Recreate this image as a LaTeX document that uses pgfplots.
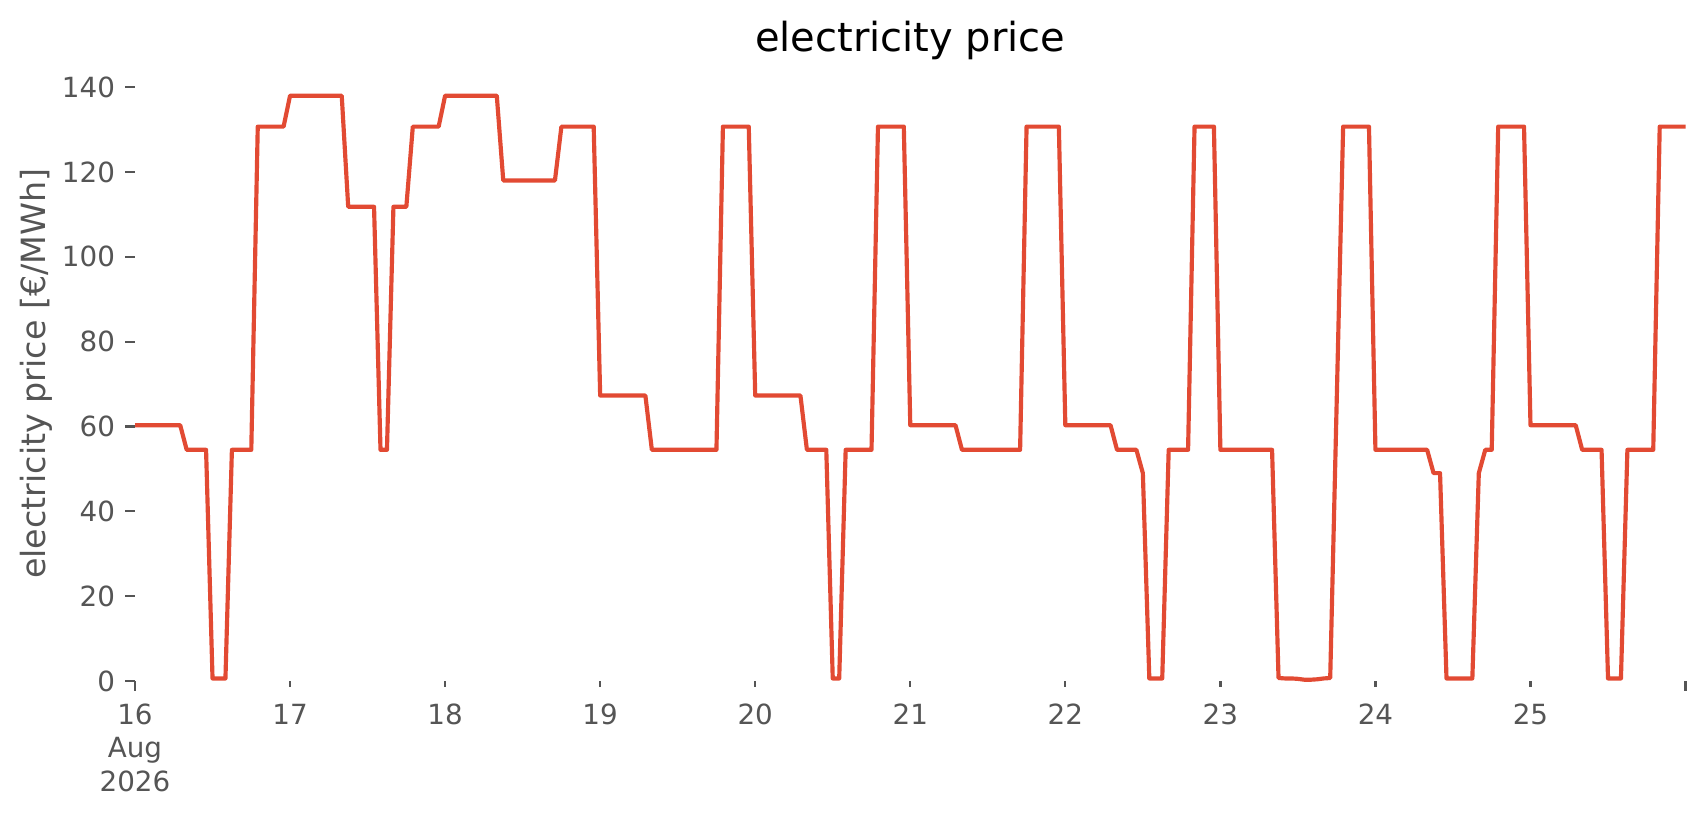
\documentclass[border=0pt]{standalone}
\usepackage{fontspec}
\setmainfont{DejaVu Sans}
\usepackage{pgfplots}
\pgfplotsset{compat=1.18}
\definecolor{ggred}{HTML}{E24A33}
\definecolor{tickgrey}{HTML}{555555}
\begin{document}
\begin{tikzpicture}[x=1pt,y=1pt]
\path[use as bounding box] (0,0) rectangle (614.16,293.4);
\begin{axis}[
  at={(48.6pt,48.24pt)}, anchor=south west,
  scale only axis, width=558.2pt, height=221.4pt,
  xmin=0, xmax=240, ymin=0, ymax=145,
  clip=false,
  axis line style={draw=none},
  tick align=outside,
  tick style={tickgrey, line width=0.8pt},
  major tick length=3.5pt,
  minor tick length=2pt,
  xtick={0,240},
  xticklabels={{16\\Aug\\2026},{}},
  minor xtick={24,48,72,96,120,144,168,192,216},
  extra x ticks={24,48,72,96,120,144,168,192,216},
  extra x tick labels={17,18,19,20,21,22,23,24,25},
  extra x tick style={tick style={draw=none}},
  ytick={0,20,40,60,80,100,120,140},
  /pgf/number format/assume math mode=true,
  xticklabel style={font=\fontsize{10}{12}\selectfont, text=tickgrey, align=center, anchor=north, inner sep=0pt, yshift=-4.5pt},
  yticklabel style={font=\fontsize{10}{12}\selectfont, text=tickgrey, anchor=east, inner sep=0pt, xshift=-3.5pt},
  xtick pos=bottom, ytick pos=left,
]
\addplot[color=ggred, line width=1.5pt, line join=round, mark=none] coordinates {
(0,60.3)(1,60.3)(2,60.3)(3,60.3)(4,60.3)(5,60.3)(6,60.3)(7,60.3)
(8,54.5)(9,54.5)(10,54.5)(11,54.5)
(12,0.6)(13,0.6)(14,0.6)
(15,54.5)(16,54.5)(17,54.5)(18,54.5)
(19,130.7)(20,130.7)(21,130.7)(22,130.7)(23,130.7)
(24,138)(25,138)(26,138)(27,138)(28,138)(29,138)(30,138)(31,138)(32,138)
(33,111.8)(34,111.8)(35,111.8)(36,111.8)(37,111.8)
(38,54.5)(39,54.5)
(40,111.8)(41,111.8)(42,111.8)
(43,130.7)(44,130.7)(45,130.7)(46,130.7)(47,130.7)
(48,138)(49,138)(50,138)(51,138)(52,138)(53,138)(54,138)(55,138)(56,138)
(57,118)(58,118)(59,118)(60,118)(61,118)(62,118)(63,118)(64,118)(65,118)
(66,130.7)(67,130.7)(68,130.7)(69,130.7)(70,130.7)(71,130.7)
(72,67.3)(73,67.3)(74,67.3)(75,67.3)(76,67.3)(77,67.3)(78,67.3)(79,67.3)
(80,54.5)(81,54.5)(82,54.5)(83,54.5)(84,54.5)(85,54.5)(86,54.5)(87,54.5)(88,54.5)(89,54.5)(90,54.5)
(91,130.7)(92,130.7)(93,130.7)(94,130.7)(95,130.7)
(96,67.3)(97,67.3)(98,67.3)(99,67.3)(100,67.3)(101,67.3)(102,67.3)(103,67.3)
(104,54.5)(105,54.5)(106,54.5)(107,54.5)
(108,0.6)(109,0.6)
(110,54.5)(111,54.5)(112,54.5)(113,54.5)(114,54.5)
(115,130.7)(116,130.7)(117,130.7)(118,130.7)(119,130.7)
(120,60.3)(121,60.3)(122,60.3)(123,60.3)(124,60.3)(125,60.3)(126,60.3)(127,60.3)
(128,54.5)(129,54.5)(130,54.5)(131,54.5)(132,54.5)(133,54.5)(134,54.5)(135,54.5)(136,54.5)(137,54.5)
(138,130.7)(139,130.7)(140,130.7)(141,130.7)(142,130.7)(143,130.7)
(144,60.3)(145,60.3)(146,60.3)(147,60.3)(148,60.3)(149,60.3)(150,60.3)(151,60.3)
(152,54.5)(153,54.5)(154,54.5)(155,54.5)
(156,49)
(157,0.6)(158,0.6)(159,0.6)
(160,54.5)(161,54.5)(162,54.5)(163,54.5)
(164,130.7)(165,130.7)(166,130.7)(167,130.7)
(168,54.5)(169,54.5)(170,54.5)(171,54.5)(172,54.5)(173,54.5)(174,54.5)(175,54.5)(176,54.5)
(177,0.7)(178,0.6)(179,0.6)(180,0.5)(181,0.3)(182,0.3)(183,0.4)(184,0.6)(185,0.7)
(186,65.6)
(187,130.7)(188,130.7)(189,130.7)(190,130.7)(191,130.7)
(192,54.5)(193,54.5)(194,54.5)(195,54.5)(196,54.5)(197,54.5)(198,54.5)(199,54.5)(200,54.5)
(201,49)(202,49)
(203,0.6)(204,0.6)(205,0.6)(206,0.6)(207,0.6)
(208,49)
(209,54.5)(210,54.5)
(211,130.7)(212,130.7)(213,130.7)(214,130.7)(215,130.7)
(216,60.3)(217,60.3)(218,60.3)(219,60.3)(220,60.3)(221,60.3)(222,60.3)(223,60.3)
(224,54.5)(225,54.5)(226,54.5)(227,54.5)
(228,0.6)(229,0.6)(230,0.6)
(231,54.5)(232,54.5)(233,54.5)(234,54.5)(235,54.5)
(236,130.7)(237,130.7)(238,130.7)(239,130.7)(240,130.7)
};
\end{axis}
\node[anchor=base, font=\fontsize{14.4}{17}\selectfont] at (327.7,274.7) {electricity price};
\node[rotate=90, anchor=center, font=\fontsize{12}{14}\selectfont, text=tickgrey] at (12.96,158.9) {electricity price [€/MWh]};
\end{tikzpicture}
\end{document}
